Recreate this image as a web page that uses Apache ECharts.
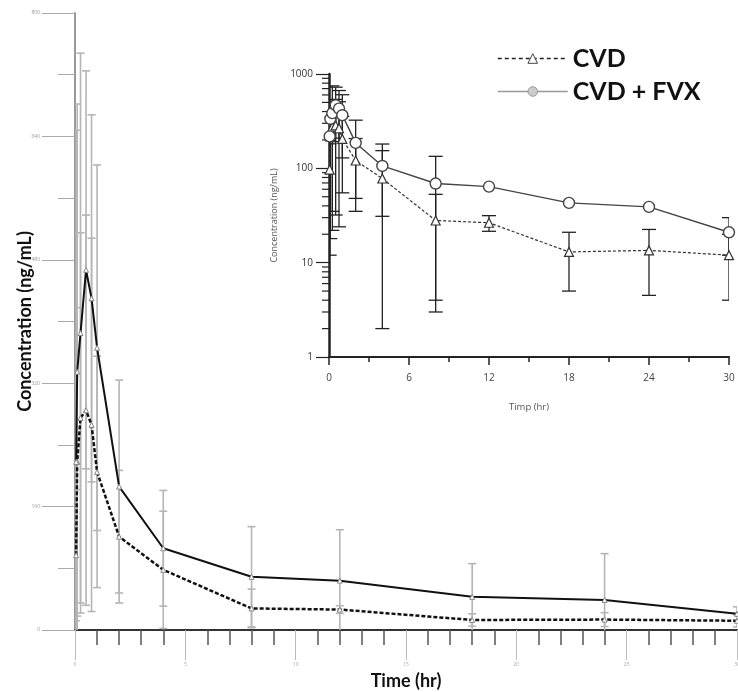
<!DOCTYPE html>
<html>
<head>
<meta charset="utf-8">
<script src="https://cdn.jsdelivr.net/npm/echarts@6/dist/echarts.min.js"></script>
<style>
  html, body { margin: 0; padding: 0; background: #fff; }
  #chart { width: 738px; height: 692px; }
</style>
</head>
<body>
<div id="chart"></div>
<script>
// sampling times (hr)
var times = [0.05, 0.1, 0.25, 0.5, 0.75, 1, 2, 4, 8, 12, 18, 24, 30];
// mean concentrations (ng/mL)
var cvd = [97, 218, 275, 285, 266, 205, 121, 78, 28, 26.5, 13, 13.5, 12];
var cvdFvx = [218, 335, 385, 467, 430, 366, 186, 106, 69, 64, 43, 39, 21];
// standard deviations
var cvdSd = [85, 200, 240, 253, 242, 150, 86, 76, 25, 5, 8, 9, 8];
var cvdFvxSd = [430, 347, 363, 258, 238, 237, 138, 75, 65, 66, 43, 60, 9];
// tick labels
var mainYTicks = [0, 160, 320, 480, 640, 800];
var logMinor = [];
[1, 10, 100].forEach(function (d) { for (var k = 2; k <= 9; k++) logMinor.push(d * k); });

var FONT = "'Open Sans', 'Noto Sans', sans-serif";
var BOLD = "Lato, 'Open Sans', sans-serif";

function pairs(vals) {
  return times.map(function (t, i) { return [t, vals[i]]; });
}
function bars(vals, sd, isLog) {
  var out = [];
  times.forEach(function (t, i) {
    var hi = vals[i] + sd[i], lo = vals[i] - sd[i];
    if (isLog && lo <= 0) return;
    out.push([t, hi, Math.max(lo, 0)]);
  });
  return out;
}
function barRender(color, half, lw) {
  return function (params, api) {
    var x = api.value(0);
    var top = api.coord([x, api.value(1)]);
    var bot = api.coord([x, api.value(2)]);
    var st = { stroke: color, lineWidth: lw };
    var kids = [
      { type: 'line', shape: { x1: top[0], y1: top[1], x2: bot[0], y2: bot[1] }, style: st },
      { type: 'line', shape: { x1: top[0] - half, y1: top[1], x2: top[0] + half, y2: top[1] }, style: st }
    ];
    if (api.value(2) > 0) {
      kids.push({ type: 'line', shape: { x1: bot[0] - half, y1: bot[1], x2: bot[0] + half, y2: bot[1] }, style: st });
    }
    return { type: 'group', children: kids };
  };
}

var chart = echarts.init(document.getElementById('chart'));
chart.setOption({
  animation: false,
  backgroundColor: '#fff',
  textStyle: { fontFamily: FONT },
  legend: {
    orient: 'vertical',
    left: 492,
    top: 41,
    itemWidth: 70,
    itemHeight: 12,
    itemGap: 8,
    textStyle: { fontSize: 25, fontWeight: 'bold', color: '#111', fontFamily: BOLD },
    data: [
      { name: 'CVD', lineStyle: { color: '#222', type: [4, 3], width: 1.5 }, itemStyle: { color: '#fff', borderColor: '#444', borderWidth: 1 } },
      { name: 'CVD + FVX', lineStyle: { color: '#999', width: 1.5 }, itemStyle: { color: '#ccc', borderColor: '#999', borderWidth: 1 } }
    ]
  },
  grid: [
    { left: 75, top: 13, width: 662, height: 617, outerBoundsMode: 'none', containLabel: false },
    { left: 329, top: 74, width: 400, height: 283, outerBoundsMode: 'none', containLabel: false }
  ],
  xAxis: [
    {
      gridIndex: 0, type: 'value', min: 0, max: 30, interval: 5,
      name: 'Time (hr)', nameLocation: 'middle', nameGap: 42,
      nameTextStyle: { fontSize: 18, fontWeight: 'bold', color: '#111', fontFamily: BOLD },
      axisLine: { lineStyle: { color: '#333', width: 2 } },
      axisTick: { length: 30, lineStyle: { color: '#bbb', width: 1 } },
      minorTick: { show: true, splitNumber: 5, length: 15, lineStyle: { color: '#555', width: 1.5 } },
      axisLabel: { fontSize: 5, color: '#aaa', margin: 32 },
      splitLine: { show: false }
    },
    {
      gridIndex: 1, type: 'value', min: 0, max: 30, interval: 6,
      name: 'Timp (hr)', nameLocation: 'middle', nameGap: 45,
      nameTextStyle: { fontSize: 9.5, color: '#555' },
      axisLine: { lineStyle: { color: '#222', width: 2 } },
      axisTick: { length: 8, lineStyle: { color: '#222', width: 1.5 } },
      minorTick: { show: true, splitNumber: 2, length: 5, lineStyle: { color: '#222', width: 1.5 } },
      axisLabel: { fontSize: 10, color: '#444', margin: 16 },
      splitLine: { show: false }
    }
  ],
  yAxis: [
    {
      gridIndex: 0, type: 'value', min: 0, max: 800, interval: 160,
      name: 'Concentration (ng/mL)', nameLocation: 'middle', nameGap: 41, nameMoveOverlap: false,
      nameTextStyle: { fontSize: 18, fontWeight: 'bold', color: '#111', fontFamily: BOLD },
      axisLine: { show: true, lineStyle: { color: '#999', width: 2 } },
      axisTick: { show: true, length: 33, lineStyle: { color: '#aaa', width: 1 } },
      minorTick: { show: true, splitNumber: 2, length: 17, lineStyle: { color: '#aaa', width: 1 } },
      axisLabel: { fontSize: 5, color: '#999', margin: 35,
        formatter: function (v) { return mainYTicks.indexOf(v) >= 0 ? String(v) : ''; } },
      splitLine: { show: false }
    },
    {
      gridIndex: 1, type: 'log', logBase: 10, min: 1, max: 1000,
      name: 'Concentration (ng/mL)', nameLocation: 'middle', nameGap: 44,
      nameTextStyle: { fontSize: 9, color: '#555' },
      axisLine: { show: true, lineStyle: { color: '#222', width: 2.5 } },
      axisTick: { show: true, length: 13, lineStyle: { color: '#222', width: 1.2 } },
      axisLabel: { fontSize: 10, color: '#333', margin: 16,
        formatter: function (v) { return String(Math.round(v)); } },
      splitLine: { show: false }
    }
  ],
  series: [
    // inset
    {
      name: 'CVD', type: 'line', xAxisIndex: 1, yAxisIndex: 1, z: 5,
      data: pairs(cvd), symbol: 'triangle', symbolSize: 9,
      lineStyle: { color: '#333', width: 1.2, type: [3, 2] },
      itemStyle: { color: '#fff', borderColor: '#333', borderWidth: 1.2 }
    },
    {
      name: 'CVD + FVX', type: 'line', xAxisIndex: 1, yAxisIndex: 1, z: 5,
      data: pairs(cvdFvx), symbol: 'circle', symbolSize: 11,
      lineStyle: { color: '#444', width: 1.4 },
      itemStyle: { color: '#fff', borderColor: '#444', borderWidth: 1.4 }
    },
    {
      type: 'custom', xAxisIndex: 1, yAxisIndex: 1, z: 3, clip: true,
      data: bars(cvd, cvdSd, true), renderItem: barRender('#222', 7, 1.3)
    },
    {
      type: 'custom', xAxisIndex: 1, yAxisIndex: 1, z: 3, clip: true,
      data: bars(cvdFvx, cvdFvxSd, true), renderItem: barRender('#222', 7, 1.3)
    },
    {
      type: 'custom', xAxisIndex: 1, yAxisIndex: 1, z: 3, silent: true,
      data: logMinor.map(function (v) { return [0, v]; }),
      renderItem: function (params, api) {
        var p = api.coord([0, api.value(1)]);
        return { type: 'line', shape: { x1: p[0] - 7, y1: p[1], x2: p[0], y2: p[1] }, style: { stroke: '#222', lineWidth: 1.2 } };
      }
    },
    // main
    {
      type: 'custom', xAxisIndex: 0, yAxisIndex: 0, z: 2, clip: true,
      data: bars(cvdFvx, cvdFvxSd, false), renderItem: barRender('#b5b5b5', 4, 1.6)
    },
    {
      type: 'custom', xAxisIndex: 0, yAxisIndex: 0, z: 2, clip: true,
      data: bars(cvd, cvdSd, false), renderItem: barRender('#b5b5b5', 4, 1.6)
    },
    {
      name: 'CVD', type: 'line', xAxisIndex: 0, yAxisIndex: 0, z: 4,
      data: pairs(cvd), symbol: 'triangle', symbolSize: 5,
      lineStyle: { color: '#111', width: 2.5, type: [4, 2] },
      itemStyle: { color: '#fff', borderColor: '#888', borderWidth: 1 }
    },
    {
      name: 'CVD + FVX', type: 'line', xAxisIndex: 0, yAxisIndex: 0, z: 4,
      data: pairs(cvdFvx), symbol: 'triangle', symbolSize: 5,
      lineStyle: { color: '#111', width: 2 },
      itemStyle: { color: '#fff', borderColor: '#888', borderWidth: 1 }
    }
  ]
});
</script>
</body>
</html>
